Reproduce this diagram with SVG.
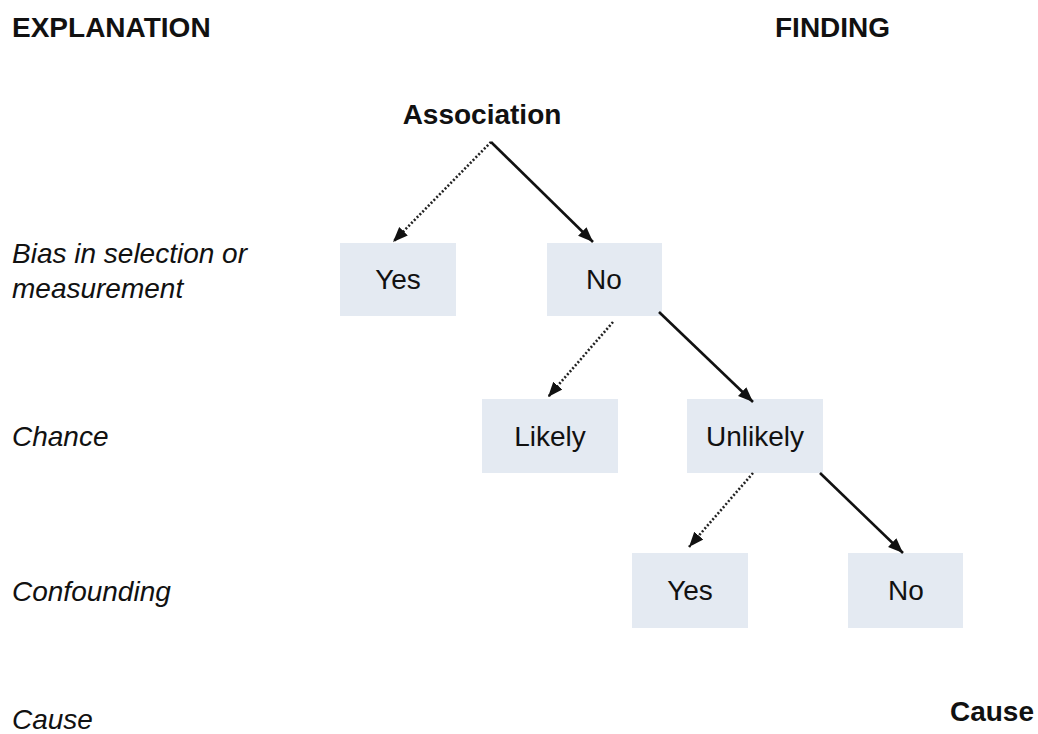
<svg xmlns="http://www.w3.org/2000/svg" width="1038" height="734" viewBox="0 0 1038 734">
<style>
.box{fill:#e4eaf2;}
.t{font-family:"Liberation Sans",Arial,sans-serif;font-size:28px;fill:#111;}
.c{text-anchor:middle;}
.b{font-weight:bold;}
.i{font-style:italic;}
.solid{stroke:#111;stroke-width:2.6;fill:none;}
.dot{stroke:#222;stroke-width:2.6;stroke-dasharray:2 2;fill:none;}
</style>
<defs>
<marker id="ah" markerUnits="userSpaceOnUse" markerWidth="16" markerHeight="14" viewBox="0 0 16 14" refX="15" refY="7" orient="auto">
<path d="M0,1 L15,7 L0,13 Z" fill="#111"/>
</marker>
</defs>
<rect width="1038" height="734" fill="#fff"/>
<g id="headers">
<text class="t b" x="12" y="37">EXPLANATION</text>
<text class="t b" x="775" y="37">FINDING</text>
</g>
<g id="row-labels">
<text class="t i" x="12" y="263">Bias in selection or</text>
<text class="t i" x="12" y="298">measurement</text>
<text class="t i" x="12" y="446">Chance</text>
<text class="t i" x="12" y="601">Confounding</text>
<text class="t i" x="12" y="729">Cause</text>
</g>
<g id="association"><text class="t b c" x="482" y="124">Association</text></g>
<g id="bias-yes"><rect class="box" x="340" y="243" width="116" height="73"/><text class="t c" x="398" y="289">Yes</text></g>
<g id="bias-no"><rect class="box" x="547" y="243" width="115" height="73"/><text class="t c" x="604" y="289">No</text></g>
<g id="chance-likely"><rect class="box" x="482" y="399" width="136" height="74"/><text class="t c" x="550" y="446">Likely</text></g>
<g id="chance-unlikely"><rect class="box" x="687" y="399" width="136" height="74"/><text class="t c" x="755" y="446">Unlikely</text></g>
<g id="conf-yes"><rect class="box" x="632" y="553" width="116" height="75"/><text class="t c" x="690" y="600">Yes</text></g>
<g id="conf-no"><rect class="box" x="848" y="553" width="115" height="75"/><text class="t c" x="906" y="600">No</text></g>
<g id="cause"><text class="t b c" x="992" y="721">Cause</text></g>
<g id="connectors">
<line class="dot" x1="491" y1="142" x2="393" y2="242" marker-end="url(#ah)"/>
<line class="solid" x1="491" y1="142" x2="593" y2="242" marker-end="url(#ah)"/>
<line class="dot" x1="613" y1="322" x2="548" y2="397" marker-end="url(#ah)"/>
<line class="solid" x1="659" y1="312" x2="753" y2="402" marker-end="url(#ah)"/>
<line class="dot" x1="753" y1="473" x2="689" y2="547" marker-end="url(#ah)"/>
<line class="solid" x1="820" y1="473" x2="903" y2="553" marker-end="url(#ah)"/>
</g>
</svg>
